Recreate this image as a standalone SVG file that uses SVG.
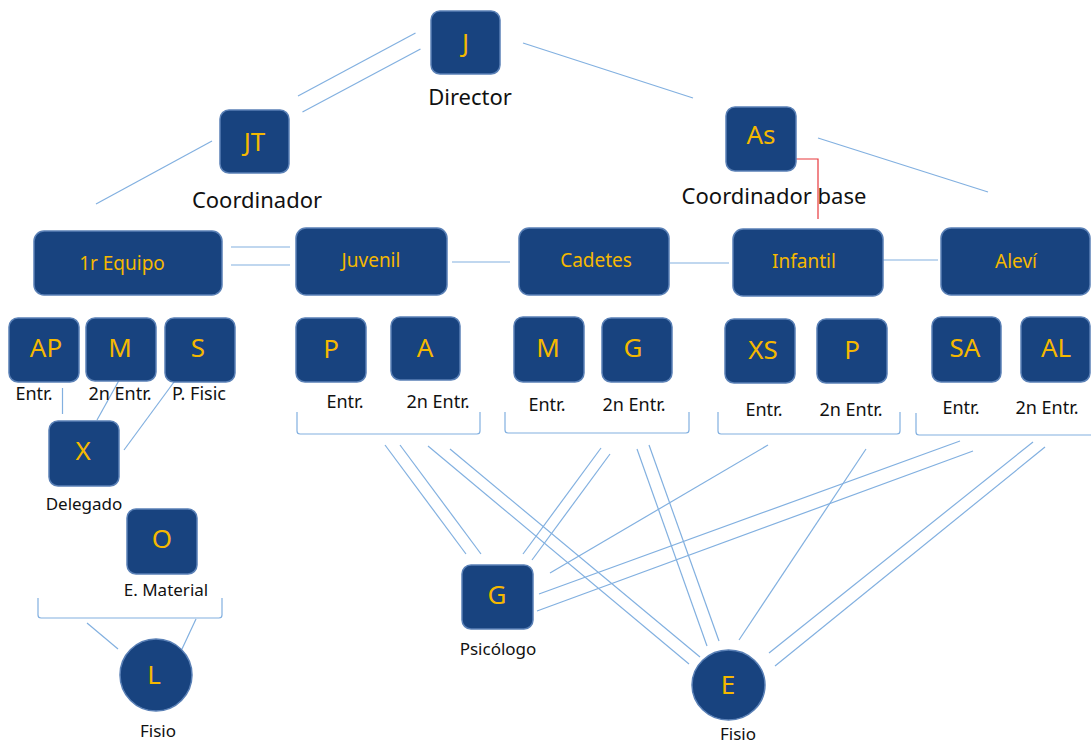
<svg xmlns="http://www.w3.org/2000/svg" width="1091" height="746" viewBox="0 0 1091 746">
<style>
.box{fill:#18437f;stroke:#5a80b6;stroke-width:1.5}
.t{font-family:"Noto Sans",sans-serif;fill:#f5b800;text-anchor:middle}
.big{font-size:26px}
.mid{font-size:19px}
.lbl{font-family:"Noto Sans",sans-serif;fill:#111;text-anchor:middle}
.l22{font-size:22px}
.l18{font-size:18px}
.l17{font-size:17px}
.c{stroke:#82b0e0;stroke-width:1.2;fill:none}
.red{stroke:#e8383c;stroke-width:1.2;fill:none}
</style>
<rect width="1091" height="746" fill="#fff"/>
<g id="connectors">
<line class="c" x1="415.5" y1="33" x2="298" y2="96"/>
<line class="c" x1="420.5" y1="49" x2="302.5" y2="112"/>
<line class="c" x1="523" y1="43" x2="693" y2="98"/>
<line class="c" x1="212" y1="141" x2="96" y2="204"/>
<line class="c" x1="818" y1="138" x2="988" y2="192"/>
<polyline class="red" points="796,159 818,159 818,219"/>
<line class="c" x1="231" y1="247" x2="290" y2="247"/>
<line class="c" x1="231" y1="265" x2="290" y2="265"/>
<line class="c" x1="452" y1="262" x2="510" y2="262"/>
<line class="c" x1="670" y1="263" x2="729" y2="263"/>
<line class="c" x1="879" y1="260" x2="938" y2="260"/>
<line class="c" x1="62.5" y1="388" x2="62.5" y2="414"/>
<line class="c" x1="122" y1="375" x2="97" y2="420"/>
<line class="c" x1="174" y1="382" x2="124" y2="450"/>
<path class="c" d="M297,412 V431 Q297,434 300,434 H477 Q480,434 480,431 V412"/>
<path class="c" d="M505,412 V430 Q505,433 508,433 H686 Q689,433 689,430 V412"/>
<path class="c" d="M718,412 V431 Q718,434 721,434 H897 Q900,434 900,431 V412"/>
<path class="c" d="M916,413 V432 Q916,435 919,435 H1095"/>
<path class="c" d="M38,598 V615 Q38,618 41,618 H219 Q222,618 222,615 V598"/>
<line class="c" x1="87" y1="623" x2="118" y2="649"/>
<line class="c" x1="196" y1="619" x2="182" y2="649"/>
<line class="c" x1="385" y1="445" x2="466" y2="554"/>
<line class="c" x1="400" y1="445" x2="481" y2="554"/>
<line class="c" x1="428" y1="446" x2="689" y2="664"/>
<line class="c" x1="450" y1="449" x2="700" y2="657"/>
<line class="c" x1="601" y1="448" x2="523" y2="554"/>
<line class="c" x1="610" y1="454" x2="532" y2="560"/>
<line class="c" x1="637" y1="449" x2="707" y2="646"/>
<line class="c" x1="649" y1="445" x2="719" y2="641"/>
<line class="c" x1="768" y1="445" x2="550" y2="573"/>
<line class="c" x1="866" y1="449" x2="739" y2="640"/>
<line class="c" x1="960" y1="441" x2="539" y2="594"/>
<line class="c" x1="973" y1="451" x2="537" y2="611"/>
<line class="c" x1="1033" y1="442" x2="769" y2="653"/>
<line class="c" x1="1045" y1="447" x2="775" y2="666"/>
</g>
<g id="node-J"><rect class="box" x="431" y="11" width="69" height="63" rx="9"/><text class="t big" x="465.5" y="52">J</text><text class="lbl l22" x="470" y="105">Director</text></g>
<g id="node-JT"><rect class="box" x="220" y="110" width="69" height="63" rx="9"/><text class="t big" x="254.5" y="151">JT</text><text class="lbl l22" x="257" y="208">Coordinador</text></g>
<g id="node-As"><rect class="box" x="726" y="107" width="70" height="64" rx="9"/><text class="t big" x="761" y="144">As</text><text class="lbl l22" x="774" y="204">Coordinador base</text></g>
<g id="node-1rEquipo"><rect class="box" x="34" y="231" width="188" height="64" rx="10"/><text class="t mid" x="122" y="270">1r Equipo</text></g>
<g id="node-Juvenil"><rect class="box" x="296" y="228" width="151" height="67" rx="10"/><text class="t mid" x="371" y="267">Juvenil</text></g>
<g id="node-Cadetes"><rect class="box" x="519" y="228" width="150" height="67" rx="10"/><text class="t mid" x="596" y="267">Cadetes</text></g>
<g id="node-Infantil"><rect class="box" x="733" y="229" width="150" height="67" rx="10"/><text class="t mid" x="804" y="268">Infantil</text></g>
<g id="node-Alevi"><rect class="box" x="941" y="228" width="149" height="67" rx="10"/><text class="t mid" x="1016" y="268">Aleví</text></g>
<g id="node-AP"><rect class="box" x="9" y="318" width="70" height="64" rx="9"/><text class="t big" x="46" y="357">AP</text><text class="lbl l18" x="34" y="400">Entr.</text></g>
<g id="node-M1"><rect class="box" x="86" y="318" width="70" height="63" rx="9"/><text class="t big" x="120" y="357">M</text><text class="lbl l18" x="120" y="400">2n Entr.</text></g>
<g id="node-S"><rect class="box" x="165" y="318" width="70" height="64" rx="9"/><text class="t big" x="198" y="357">S</text><text class="lbl l18" x="199" y="400">P. Fisic</text></g>
<g id="node-P1"><rect class="box" x="296" y="318" width="70" height="64" rx="9"/><text class="t big" x="331" y="358">P</text><text class="lbl l18" x="345" y="408">Entr.</text></g>
<g id="node-A"><rect class="box" x="391" y="317" width="69" height="63" rx="9"/><text class="t big" x="425" y="357">A</text><text class="lbl l18" x="438" y="408">2n Entr.</text></g>
<g id="node-M2"><rect class="box" x="514" y="317" width="70" height="65" rx="9"/><text class="t big" x="548" y="357">M</text><text class="lbl l18" x="547" y="411">Entr.</text></g>
<g id="node-G1"><rect class="box" x="602" y="318" width="70" height="64" rx="9"/><text class="t big" x="633" y="357">G</text><text class="lbl l18" x="634" y="411">2n Entr.</text></g>
<g id="node-XS"><rect class="box" x="725" y="319" width="70" height="64" rx="9"/><text class="t big" x="763" y="359">XS</text><text class="lbl l18" x="764" y="416">Entr.</text></g>
<g id="node-P2"><rect class="box" x="817" y="319" width="70" height="64" rx="9"/><text class="t big" x="852" y="359">P</text><text class="lbl l18" x="851" y="416">2n Entr.</text></g>
<g id="node-SA"><rect class="box" x="932" y="317" width="69" height="65" rx="9"/><text class="t big" x="965" y="357">SA</text><text class="lbl l18" x="961" y="414">Entr.</text></g>
<g id="node-AL"><rect class="box" x="1021" y="317" width="69" height="65" rx="9"/><text class="t big" x="1056" y="357">AL</text><text class="lbl l18" x="1047" y="414">2n Entr.</text></g>
<g id="node-X"><rect class="box" x="49" y="421" width="70" height="65" rx="9"/><text class="t big" x="83" y="460">X</text><text class="lbl l17" x="84" y="510">Delegado</text></g>
<g id="node-O"><rect class="box" x="127" y="509" width="70" height="65" rx="9"/><text class="t big" x="162" y="548">O</text><text class="lbl l17" x="166" y="596">E. Material</text></g>
<g id="node-L"><circle class="box" cx="156" cy="675" r="36"/><text class="t big" x="154" y="684">L</text><text class="lbl l17" x="158" y="737">Fisio</text></g>
<g id="node-G2"><rect class="box" x="462" y="565" width="71" height="64" rx="9"/><text class="t big" x="497" y="604">G</text><text class="lbl l17" x="498" y="655">Psicólogo</text></g>
<g id="node-E"><ellipse class="box" cx="728.5" cy="685" rx="36.5" ry="35"/><text class="t big" x="728" y="694">E</text><text class="lbl l17" x="738" y="740">Fisio</text></g>
</svg>
